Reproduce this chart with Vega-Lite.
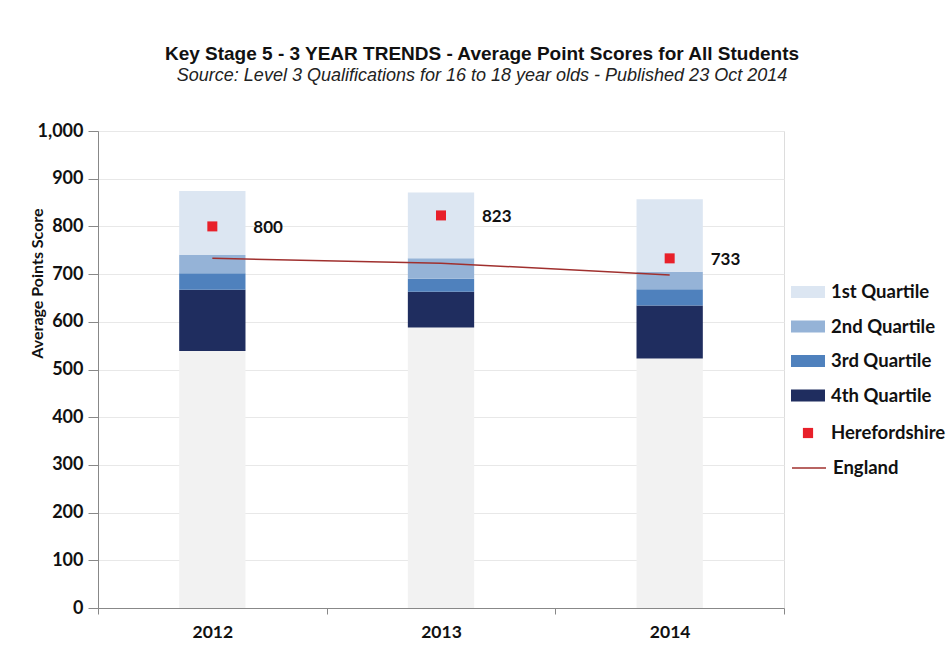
{
  "$schema": "https://vega.github.io/schema/vega-lite/v6.json",
  "width": 686,
  "height": 477,
  "autosize": {"type": "none"},
  "padding": {"left": 98, "top": 131, "right": 168, "bottom": 53},
  "background": "white",
  "title": {
    "text": "Key Stage 5 - 3 YEAR TRENDS - Average Point Scores for All Students",
    "subtitle": "Source: Level 3 Qualifications for 16 to  18 year olds - Published 23 Oct 2014",
    "font": "Liberation Sans",
    "fontSize": 19,
    "fontWeight": "bold",
    "color": "#111111",
    "subtitleFont": "Liberation Sans",
    "subtitleFontSize": 18,
    "subtitleFontStyle": "italic",
    "subtitleColor": "#222222",
    "subtitlePadding": 3,
    "anchor": "middle",
    "frame": "group",
    "dx": 41,
    "offset": 37
  },
  "datasets": {
    "base": [
      {"year": "2012", "lo": 0, "hi": 539},
      {"year": "2013", "lo": 0, "hi": 588},
      {"year": "2014", "lo": 0, "hi": 523}
    ],
    "quartiles": [
      {"year": "2012", "series": "4th Quartile", "lo": 539, "hi": 667},
      {"year": "2012", "series": "3rd Quartile", "lo": 667, "hi": 702},
      {"year": "2012", "series": "2nd Quartile", "lo": 702, "hi": 740},
      {"year": "2012", "series": "1st Quartile", "lo": 740, "hi": 874},
      {"year": "2013", "series": "4th Quartile", "lo": 588, "hi": 663},
      {"year": "2013", "series": "3rd Quartile", "lo": 663, "hi": 690},
      {"year": "2013", "series": "2nd Quartile", "lo": 690, "hi": 733},
      {"year": "2013", "series": "1st Quartile", "lo": 733, "hi": 871},
      {"year": "2014", "series": "4th Quartile", "lo": 523, "hi": 634},
      {"year": "2014", "series": "3rd Quartile", "lo": 634, "hi": 668},
      {"year": "2014", "series": "2nd Quartile", "lo": 668, "hi": 705},
      {"year": "2014", "series": "1st Quartile", "lo": 705, "hi": 857}
    ],
    "england": [
      {"year": "2012", "series": "England", "value": 733},
      {"year": "2013", "series": "England", "value": 723},
      {"year": "2014", "series": "England", "value": 698}
    ],
    "hereford": [
      {"year": "2012", "series": "Herefordshire", "value": 800},
      {"year": "2013", "series": "Herefordshire", "value": 823},
      {"year": "2014", "series": "Herefordshire", "value": 733}
    ]
  },
  "config": {
    "legend": {
      "title": null,
      "orient": "none",
      "padding": 0,
      "labelFont": "Lato",
      "labelFontSize": 18.5,
      "labelFontWeight": "bold",
      "labelColor": "#111111",
      "labelOffset": 6,
      "symbolSize": 1156,
      "symbolOpacity": 1,
      "rowPadding": 1
    }
  },
  "encoding": {
    "x": {
      "field": "year",
      "type": "nominal",
      "scale": {"paddingInner": 0, "paddingOuter": 0},
      "axis": {
        "title": null,
        "labelAngle": 0,
        "labelFont": "Lato",
        "labelFontSize": 17.5,
        "labelFontWeight": "bold",
        "labelColor": "#111111",
        "labelPadding": 9,
        "tickBand": "extent",
        "tickSize": 6,
        "tickColor": "#888888",
        "domainColor": "#888888",
        "grid": false
      }
    }
  },
  "layer": [
    {
      "data": {"name": "base"},
      "mark": {"type": "bar", "color": "#f2f2f2", "width": {"band": 0.29}},
      "encoding": {
        "y": {
          "field": "lo",
          "type": "quantitative",
          "scale": {"domain": [0, 1000], "nice": false},
          "axis": {
            "title": "Average Points Score",
            "values": [0, 100, 200, 300, 400, 500, 600, 700, 800, 900, 1000],
            "format": ",.0f",
            "labelFont": "Lato",
            "labelFontSize": 18,
            "labelFontWeight": "bold",
            "labelColor": "#111111",
            "labelPadding": 5,
            "tickSize": 10,
            "tickColor": "#888888",
            "domainColor": "#888888",
            "gridColor": "#e8e8e8",
            "titleFont": "Lato",
            "titleFontSize": 16,
            "titleFontWeight": "bold",
            "titleColor": "#111111",
            "titleX": -61,
            "titleY": 152,
            "titleBaseline": "middle",
            "titleAlign": "center"
          }
        },
        "y2": {"field": "hi"}
      }
    },
    {
      "data": {"name": "quartiles"},
      "mark": {"type": "bar", "width": {"band": 0.29}, "opacity": 1},
      "encoding": {
        "y": {"field": "lo", "type": "quantitative"},
        "y2": {"field": "hi"},
        "fill": {
          "field": "series",
          "type": "nominal",
          "scale": {
            "domain": ["1st Quartile", "2nd Quartile", "3rd Quartile", "4th Quartile"],
            "range": ["#dce6f2", "#95b3d7", "#4f81bd", "#1f2d5f"]
          },
          "legend": {
            "legendX": 693,
            "legendY": 144,
            "rowPadding": 7.5,
            "symbolType": "M-1,-0.36H1V0.36H-1Z",
            "symbolStrokeWidth": 0
          }
        }
      }
    },
    {
      "data": {"name": "england"},
      "mark": {"type": "line", "strokeWidth": 1.5},
      "encoding": {
        "y": {"field": "value", "type": "quantitative"},
        "stroke": {
          "field": "series",
          "type": "nominal",
          "scale": {"domain": ["England"], "range": ["#a0302e"]},
          "legend": {
            "legendX": 693,
            "legendY": 319,
            "symbolType": "M-1,0H1",
            "symbolStrokeWidth": 1.5
          }
        }
      }
    },
    {
      "data": {"name": "hereford"},
      "mark": {"type": "point", "shape": "square", "filled": true, "size": 100, "opacity": 1},
      "encoding": {
        "y": {"field": "value", "type": "quantitative"},
        "color": {
          "field": "series",
          "type": "nominal",
          "scale": {"domain": ["Herefordshire"], "range": ["#e8202a"]},
          "legend": {
            "legendX": 693,
            "legendY": 285,
            "symbolType": "M-0.3,-0.3H0.3V0.3H-0.3Z",
            "symbolStrokeWidth": 0
          }
        }
      }
    },
    {
      "data": {"name": "hereford"},
      "mark": {"type": "text", "align": "left", "dx": 41, "dy": 2, "font": "Lato", "fontSize": 17, "fontWeight": "bold", "color": "#111111"},
      "encoding": {
        "y": {"field": "value", "type": "quantitative"},
        "text": {"field": "value", "type": "quantitative"}
      }
    }
  ]
}
